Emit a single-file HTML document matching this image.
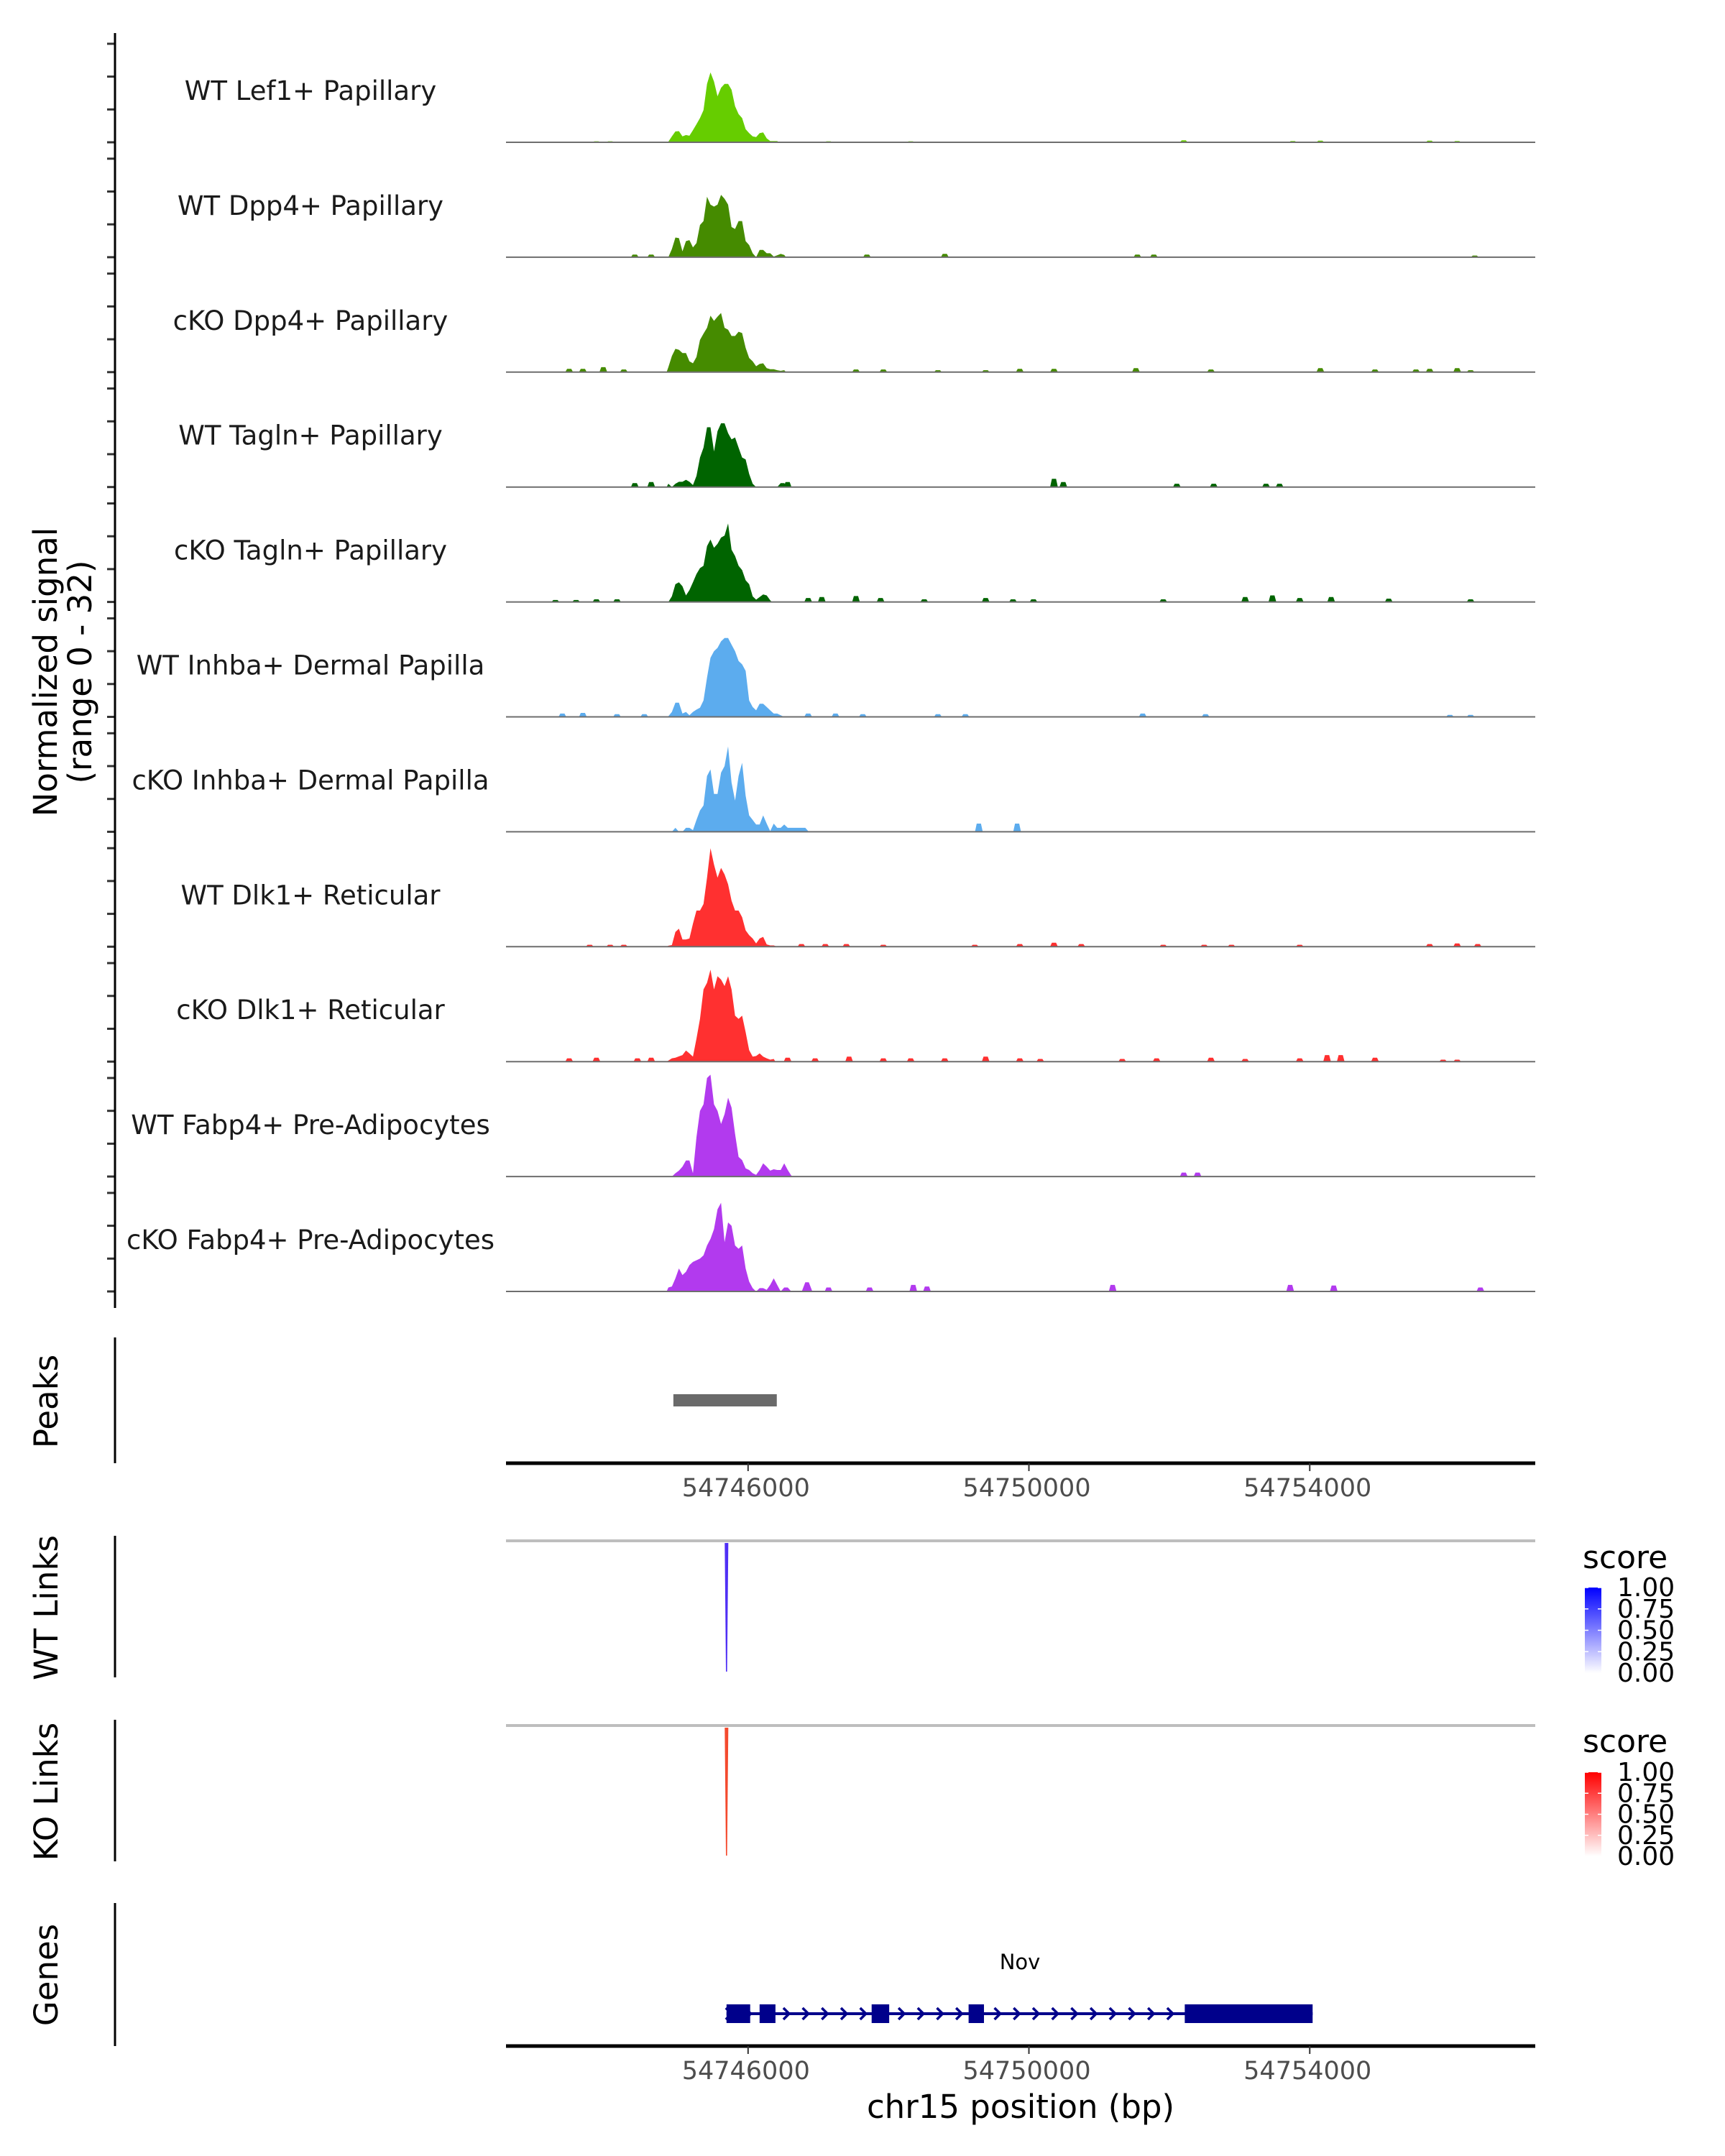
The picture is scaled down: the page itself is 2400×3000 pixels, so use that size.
<!DOCTYPE html>
<html><head><meta charset="utf-8"><style>
html,body{margin:0;padding:0;background:#fff}
svg{display:block}
text{font-family:"DejaVu Sans","Liberation Sans",sans-serif}
</style></head><body>
<svg id="chart" width="2400" height="3000" viewBox="0 0 2400 3000" xmlns="http://www.w3.org/2000/svg">
<g id="tracks"></g>
<g id="axes"></g>
<g id="lower"></g>
</svg>
<script>
// ---- data ----
const trackNames = ["WT Lef1+ Papillary","WT Dpp4+ Papillary","cKO Dpp4+ Papillary","WT Tagln+ Papillary","cKO Tagln+ Papillary","WT Inhba+ Dermal Papilla","cKO Inhba+ Dermal Papilla","WT Dlk1+ Reticular","cKO Dlk1+ Reticular","WT Fabp4+ Pre-Adipocytes","cKO Fabp4+ Pre-Adipocytes"];
const trackColors = ["#66cd00","#458b00","#458b00","#006400","#006400","#5cacee","#5cacee","#ff3030","#ff3030","#b23aee","#b23aee"];
const binStart = 54744840;
const binStep = 50;
const lef1 = [0.2,1.8,3.3,3.4,1.8,2.2,2,3.7,5.5,7.4,9.8,17.8,21.3,18.5,14,16.6,17.8,17.8,16,11,8.6,7.4,4,2.8,1.8,1.6,2.8,3,1.2,0.4,0.4,0.4];
const wtDpp4 = [0,2.5,6,5.8,1.8,4.9,5.2,3,4.3,9.8,11,18.4,16,15.4,16,19,17.8,16,9.2,8.6,11,11,4.9,3.7,1.2,0,2.2,2.2,1.2,1.2,0.2,0.6,1,0.7];
const koDpp4 = [1.5,4.9,7.1,6.8,5.8,5.8,3.3,2.7,4.6,9.8,11.7,13.5,17.2,15.6,16.9,18,13.5,12.9,11,11,12.3,11.9,7.4,4.3,3.3,1.8,2.5,2.7,1.2,0.9,0.9,0.6,0.4,0.6];
const wtTagln = [1,0,1,1.6,1.6,2.2,1.6,0.6,3.4,9,12,18.2,18.2,10.8,17,19.4,19.4,16.4,14.5,15.1,12,9,8.4,4,1,0,0,0,0,0,0,0,1.2,1.2,0];
const koTagln = [0,1.7,5.4,6,4.8,2,3.6,6,8.5,10.3,11,17,19,16.5,17.7,19.6,20.2,23.9,15.9,14,11,9.7,6.6,5.4,1.7,0.7,1.5,2.3,2,0.5];
const wtInhba = [0.2,1.5,4.3,4.3,1,1.5,0.5,1.5,2.2,2.8,5,12,18,20,21,23,24,24,22,20,17,16,14,5,3,2,4,4,3,2,1,1,0.5,0];
const koInhba = [0,0,1.2,0,0,1.2,1.2,0.5,3.6,6.5,8,17,19,11.5,11.5,18,20,26,15,9.5,17,21,11,5,3.6,2.2,2.2,5,2.5,0.2,2.5,1.2,1.2,2.2,1.2,1.2,1.2,1.2,1.2,1.2,0];
const wtDlk1 = [0.3,0.5,4.5,5.5,2.2,2.2,2.5,7,11,11,13,21,30,25,21,24,22,19,14,11,11,9,5,3.5,2.5,1,2.5,3,0.7,0.4,0.4,0];
const koDlk1 = [0.3,1,1.2,1.6,2,3.4,2.5,1.5,7,13,22,24,28,22,26,25,23,26,22,14,13,14,9,3.5,1.5,1.7,2.5,1.5,1,0.6,0.8];
const wtFabp4 = [0,0,1,1.8,3,4.9,4.9,1,12,20,22,30,31,22,20,16,19,24,21,13,6,5,2.5,2,1,0.5,2,4,3,1.8,2.2,2,2,4,2,0.3];
const koFabp4 = [1.2,1.5,4,7,5,6,8,9,9.5,10,11,14,16,19,25,27,15,21,20,14,13,14,7,3,1,0,1,1,0.5,2,4,2,0,1.2,1.2,0,0,0,0,2.8,2.8,0];
const bumpsLef1 = [[54743840,0.3],[54744036,0.3],[54747146,0.3],[54748316,0.3],[54752206,0.6],[54753759,0.4],[54754151,0.5],[54755708,0.5],[54756100,0.4]];
const bumpsWtDpp4 = [[54744386,0.8],[54744620,0.8],[54747693,0.8],[54748802,1],[54751545,0.8],[54751779,0.8],[54756351,0.5]];
const bumpsKoDpp4 = [[54743452,1],[54743647,1],[54743938,1.5],[54744230,0.8],[54747537,0.8],[54747926,0.8],[54748704,0.6],[54749384,0.6],[54749870,1],[54750357,1],[54751524,1.2],[54752593,0.8],[54754151,1.2],[54754929,0.8],[54755513,0.8],[54755708,1],[54756100,1.2],[54756291,0.6]];
const bumpsWtTagln = [[54744386,1.2],[54744620,1.5],[54746563,1.5],[54750357,2.5],[54750490,1.5],[54752107,1],[54752632,1],[54753377,1],[54753570,1]];
const bumpsKoTagln = [[54743256,0.6],[54743550,0.6],[54743840,0.8],[54744133,0.8],[54746856,1.2],[54747050,1.5],[54747537,1.8],[54747887,1.2],[54748509,0.8],[54749384,1.2],[54749773,0.8],[54750065,0.8],[54751913,0.8],[54753080,1.5],[54753468,2],[54753857,1.2],[54754305,1.5],[54755125,1],[54756291,0.8]];
const bumpsWtInhba = [[54743355,1],[54743647,1.2],[54744133,0.8],[54744522,0.8],[54746856,1],[54747245,1],[54747634,0.8],[54748704,0.8],[54749095,0.8],[54751621,1],[54752516,0.8],[54755997,0.6],[54756291,0.6]];
const bumpsKoInhba = [[54749287,2.5],[54749832,2.5]];
const bumpsWtDlk1 = [[54743744,0.6],[54744036,0.6],[54744230,0.6],[54746760,0.8],[54747100,0.8],[54747400,0.8],[54747926,0.6],[54749229,0.6],[54749870,0.8],[54750357,1.2],[54750746,0.8],[54751913,0.6],[54752496,0.6],[54752885,0.6],[54753857,0.6],[54755708,0.8],[54756100,1],[54756392,0.8]];
const bumpsKoDlk1 = [[54743452,1],[54743840,1.2],[54744424,1],[54744620,1.2],[54746563,1.2],[54746955,1],[54747439,1.5],[54747926,1],[54748316,1],[54748801,1],[54749384,1.5],[54749870,1],[54750162,0.8],[54751329,0.8],[54751819,1],[54752593,1.2],[54753080,0.8],[54753857,1],[54754247,2],[54754441,2],[54754929,1.2],[54755899,0.6],[54756100,0.6]];
const bumpsWtFabp4 = [[54752206,1.2],[54752402,1.2]];
const bumpsKoFabp4 = [[54747146,1.2],[54747731,1.2],[54748353,2],[54748548,1.5],[54751193,2],[54753721,2],[54754342,1.8],[54756431,1.2]];
const xTicks = [54746000,54750000,54754000];
const peakRegions = [[54744936,54746409]];
const wtLinks = [[54745693,1.0]];
const koLinks = [[54745693,1.0]];
const geneExons = [[54745693,54746030],[54746164,54746390],[54747760,54748010],[54749141,54749360],[54752220,54754041]];
const geneSpan = [54745693,54754041];
const legendTicks = ["1.00","0.75","0.50","0.25","0.00"];

const signals = [lef1,wtDpp4,koDpp4,wtTagln,koTagln,wtInhba,koInhba,wtDlk1,koDlk1,wtFabp4,koFabp4];
const bumps = [bumpsLef1,bumpsWtDpp4,bumpsKoDpp4,bumpsWtTagln,bumpsKoTagln,bumpsWtInhba,bumpsKoInhba,bumpsWtDlk1,bumpsKoDlk1,bumpsWtFabp4,bumpsKoFabp4];

// ---- scales ----
const NS = "http://www.w3.org/2000/svg";
const X0 = 704, X1 = 2136, BP0 = 54742552, BP1 = 54757212;
function xs(bp){ return X0 + (bp - BP0) * (X1 - X0) / (BP1 - BP0); }
const UNIT = 4.57;
function baseY(k){ return 198 + 159.9 * k; }
function ys(k, v){ return baseY(k) - v * UNIT; }
function el(tag, attrs, parent){
  const e = document.createElementNS(NS, tag);
  for (const a in attrs) e.setAttribute(a, attrs[a]);
  parent.appendChild(e);
  return e;
}
const tracks = document.getElementById('tracks');
const axes = document.getElementById('axes');
const lower = document.getElementById('lower');

// ---- signal tracks ----
signals.forEach((arr, k) => {
  const g = el('g', {}, tracks);
  
  
  const b = baseY(k);
  let d = 'M' + xs(binStart).toFixed(1) + ',' + b;
  arr.forEach((v, i) => {
    const xc = xs(binStart + (i + 0.5) * binStep);
    d += ' L' + xc.toFixed(1) + ',' + ys(k, v).toFixed(1);
  });
  d += ' L' + xs(binStart + arr.length * binStep).toFixed(1) + ',' + b + ' Z';
  const p = el('path', {d: d, fill: trackColors[k]}, g);
  
  
  bumps[k].forEach(([pos, h]) => {
    const yy = ys(k, h);
    const pts = [[xs(pos - 55), b], [xs(pos - 30), yy], [xs(pos + 30), yy], [xs(pos + 55), b]].map(q => q[0].toFixed(1) + ',' + q[1].toFixed(1)).join(' ');
    const pg = el('polygon', {points: pts, fill: trackColors[k]}, g);
    
    
  });
  const bl = el('line', {x1: X0, x2: X1, y1: b, y2: b, stroke: '#6e6e6e', 'stroke-width': 2}, g);
  
  
  const t = el('text', {x: 432, y: b - 59, 'font-size': 37, 'text-anchor': 'middle', fill: '#1a1a1a'}, g);
  t.textContent = trackNames[k];
  
  
  for (let j = 0; j < 4; j++) {
    const ty = b - j * 10 * UNIT;
    const tk = el('line', {x1: 149, x2: 160, y1: ty, y2: ty, stroke: '#333', 'stroke-width': 3}, axes);
    
    
  }
});
const yax = el('line', {x1: 160, x2: 160, y1: 46, y2: 1820, stroke: '#000', 'stroke-width': 3}, axes);


const yt = el('text', {transform: 'translate(79,935) rotate(-90)', 'font-size': 45, 'text-anchor': 'middle'}, axes);


const ts1 = el('tspan', {x: 0, dy: 0}, yt); ts1.textContent = 'Normalized signal';
const ts2 = el('tspan', {x: 0, dy: 48}, yt); ts2.textContent = '(range 0 - 32)';

// ---- side panel labels ----
function sideLabel(txt, cy, y1, y2, name){
  const l = el('line', {x1: 160, x2: 160, y1: y1, y2: y2, stroke: '#000', 'stroke-width': 3}, lower);
  
  
  const t = el('text', {transform: 'translate(80,' + cy + ') rotate(-90)', 'font-size': 45, 'text-anchor': 'middle'}, lower);
  t.textContent = txt;
  
  
}
sideLabel('Peaks', 1950, 1861, 2036, 'peaks');
sideLabel('WT Links', 2237, 2137, 2334, 'wt-links');
sideLabel('KO Links', 2493, 2393, 2590, 'ko-links');
sideLabel('Genes', 2748, 2648, 2847, 'genes');

// ---- peaks ----
peakRegions.forEach(([s, e]) => {
  const r = el('rect', {x: xs(s), y: 1940, width: xs(e) - xs(s), height: 17, fill: '#6a6a6a'}, lower);
  
  
});

// ---- x axes ----
function xAxis(y, name){
  const l = el('line', {x1: X0, x2: X1, y1: y, y2: y, stroke: '#000', 'stroke-width': 5}, lower);
  
  
  xTicks.forEach(v => {
    const tk = el('line', {x1: xs(v), x2: xs(v), y1: y, y2: y + 11, stroke: '#333', 'stroke-width': 2}, lower);
    
    
    const t = el('text', {x: xs(v) - 3, y: y + 46, 'font-size': 35, 'text-anchor': 'middle', fill: '#4d4d4d'}, lower);
    t.textContent = String(v);
    
    
  });
}
xAxis(2036, 'peaks-x-axis');
xAxis(2847, 'genes-x-axis');
const xt = el('text', {x: 1420, y: 2947, 'font-size': 45, 'text-anchor': 'middle'}, lower);
xt.textContent = 'chr15 position (bp)';



// ---- links ----
const defs = el('defs', {}, lower);
function grad(id, col){
  const g = el('linearGradient', {id: id, x1: 0, y1: 0, x2: 0, y2: 1}, defs);
  el('stop', {offset: 0, 'stop-color': col}, g);
  el('stop', {offset: 1, 'stop-color': '#ffffff'}, g);
}
grad('gb', '#0000ff'); grad('gr', '#ff0000');
function links(data, top, bot, col, name){
  const gl = el('line', {x1: X0, x2: X1, y1: top, y2: top, stroke: '#bebebe', 'stroke-width': 4}, lower);
  
  
  data.forEach(([pos, sc]) => {
    const x = xs(pos);
    const pts = (x - 2.5) + ',' + (top + 3) + ' ' + (x + 2.5) + ',' + (top + 3) + ' ' + (x + 0.8) + ',' + bot + ' ' + (x - 0.8) + ',' + bot;
    const p = el('polygon', {points: pts, fill: col, opacity: sc}, lower);
    
    
  });
}
links(wtLinks, 2144, 2326, '#4f2ff5', 'wt-link');
links(koLinks, 2401, 2582, '#f44a2e', 'ko-link');
function legend(titleY, barTop, barBot, gid, name){
  const t = el('text', {x: 2202, y: titleY + 15, 'font-size': 44}, lower);
  t.textContent = 'score';
  
  
  const r = el('rect', {x: 2205, y: barTop, width: 23, height: barBot - barTop, fill: 'url(#' + gid + ')'}, lower);
  
  
  legendTicks.forEach((lab, i) => {
    const yy = barTop + i * (barBot - barTop) / (legendTicks.length - 1);
    el('line', {x1: 2205, x2: 2210, y1: yy, y2: yy, stroke: '#fff', 'stroke-width': 1.5}, lower);
    el('line', {x1: 2223, x2: 2228, y1: yy, y2: yy, stroke: '#fff', 'stroke-width': 1.5}, lower);
    const tl = el('text', {x: 2250, y: yy + 12, 'font-size': 36}, lower);
    tl.textContent = lab;
    
    
  });
}
legend(2167, 2209, 2328, 'gb', 'wt-legend');
legend(2423, 2466, 2583, 'gr', 'ko-legend');

// ---- gene ----
const gy = 2802;
const gline = el('line', {x1: xs(geneSpan[0]), x2: xs(geneSpan[1]), y1: gy, y2: gy, stroke: '#00008b', 'stroke-width': 4}, lower);


for (let x = xs(geneSpan[0]) + 3; x < xs(54752220); x += 26.7) {
  const c = el('polyline', {points: (x - 4) + ',' + (gy - 8) + ' ' + (x + 4) + ',' + gy + ' ' + (x - 4) + ',' + (gy + 8), fill: 'none', stroke: '#00008b', 'stroke-width': 3.5}, lower);
  
  
}
geneExons.forEach(([s, e]) => {
  const r = el('rect', {x: xs(s), y: 2789, width: xs(e) - xs(s), height: 26, fill: '#00008b'}, lower);
  
  
});
const gn = el('text', {x: 1419, y: 2740, 'font-size': 29, 'text-anchor': 'middle'}, lower);
gn.textContent = 'Nov';


</script>
</body></html>
